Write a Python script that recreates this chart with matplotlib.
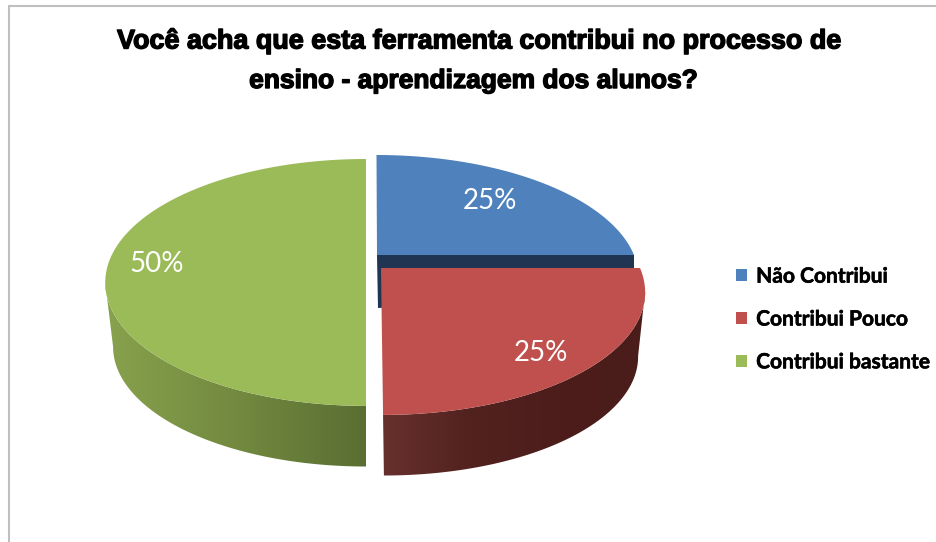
import numpy as np
import matplotlib
matplotlib.use('Agg')
import matplotlib.pyplot as plt
import matplotlib.patheffects as pe
from matplotlib.patches import Patch, Polygon, Rectangle

# data
categories = ['Não Contribui', 'Contribui Pouco', 'Contribui bastante']
shares = [25, 25, 50]
title_lines = ['Você acha que esta ferramenta contribui no processo de',
               'ensino - aprendizagem dos alunos?']

# look of the pie
top_colors = ['#4F81BD', '#C0504D', '#9BBB59']
centers_x = [377, 381, 366]
centers_y = [255, 268, 259]
radius_x = [257, 259, 256]
label_r = [0.68, 0.82, 0.80]
label_dx = [0, -10, -4]
label_dy = [-2, 7, 5]
shear = [0.005, 0.014, 0.0]     # the cut edges are not quite vertical
persp = 0.19
radius_y = 119
depth = 65
low_scale = 0.97


def project(theta, r, i, low=False):
    # theta clockwise from the top, circle put through a simple perspective
    u = r * np.sin(theta)
    v = r * np.cos(theta)
    w = 1 + persp * v
    k = low_scale if low else 1.0
    y = centers_y[i] - k * radius_y * v / w + (depth if low else 0)
    x = centers_x[i] + k * radius_x[i] * u / w + shear[i] * (y - centers_y[i])
    return x, y


def wall(i, t0, t1, xs, cols):
    # outer wall: horizontal gradient image clipped to the band between the rims
    ts = np.linspace(t0, t1, 200)
    xa, ya = project(ts, 1, i)
    xb, yb = project(ts, 1, i, low=True)
    px = np.r_[xa, xb[::-1]]
    py = np.r_[ya, yb[::-1]]
    grid = np.linspace(px.min(), px.max(), 300)
    rgb = np.array([matplotlib.colors.to_rgb(c) for c in cols])
    img = np.stack([np.interp(grid, xs, rgb[:, n]) for n in range(3)], axis=-1)[np.newaxis, :, :]
    im = ax.imshow(img, extent=(px.min(), px.max(), py.max(), py.min()), aspect='auto',
                   interpolation='bilinear', zorder=2 + i)
    clip = Polygon(np.c_[px, py], transform=ax.transData)
    im.set_clip_path(clip)


def top(i, t0, t1):
    ts = np.linspace(t0, t1, 200)
    x, y = project(ts, 1, i)
    cx, cy = project(0.0, 0.0, i)
    ax.fill(np.r_[cx, x], np.r_[cy, y], color=top_colors[i], lw=0, zorder=3 + i)


fig = plt.figure(figsize=(9.36, 5.42), dpi=100)
ax = fig.add_axes([0, 0, 1, 1])

# chart frame, runs off the right and bottom of the picture
ax.add_patch(Rectangle((9, 6), 1000, 600, fc='white', ec='#BFBFBF', lw=1.5, zorder=0))

fracs = np.array(shares) / sum(shares)
edges = np.r_[0, np.cumsum(fracs)] * 2 * np.pi
# angle of the widest point of the rim, the wall stops there
side = np.arccos(-persp)

# green first, then blue, red lies in front of blue
for i in [2, 0, 1]:
    t0, t1 = edges[i], edges[i + 1]
    if i == 0:
        # only the dark cut face of this slice can be seen
        cx, cy = project(0.0, 0.0, 0)
        ex, ey = project(t1, 1, 0)
        ax.fill([cx, ex, ex, cx + 1], [cy, ey, ey + 40, cy + 53], color='#1F3552', lw=0, zorder=2)
    elif i == 1:
        wall(i, max(t0, side), t1, [383, 470, 560, 640], ['#67302D', '#52221F', '#4C1D1B', '#4A1C1A'])
    else:
        wall(i, t0, min(t1, 2 * np.pi - side), [108, 240, 300, 366], ['#87A14D', '#72893F', '#667C39', '#5A6E33'])
    top(i, t0, t1)

ax.set_xlim(0, 936)
ax.set_ylim(542, 0)
ax.axis('off')

# percent labels
for i, f in enumerate(fracs):
    mid = (edges[i] + edges[i + 1]) / 2
    x, y = project(mid, label_r[i], i)
    ax.text(x + label_dx[i], y + label_dy[i], f'{round(f * 100)}%', color='white', fontsize=20,
            family='Lato', ha='center', va='center', zorder=10)

# title
for line, xx, yy, size in zip(title_lines, [478, 473.5], [41, 81], [19.4, 19.0]):
    ax.text(xx, yy, line, fontsize=size, fontweight='bold', family='Liberation Sans',
            ha='center', va='center', color='black', zorder=10,
            path_effects=[pe.withStroke(linewidth=1.0, foreground='black')])

# legend
handles = [Patch(fc=c, ec='none', label=n) for c, n in zip(top_colors, categories)]
leg = ax.legend(handles=handles, loc='center left', bbox_to_anchor=(736 / 936, 1 - 319.5 / 542),
                frameon=False, handlelength=0.53, handleheight=0.53, handletextpad=0.43,
                labelspacing=1.09, borderpad=0, borderaxespad=0,
                prop={'family': 'Lato', 'weight': 'bold', 'size': 15.1})
for t in leg.get_texts():
    t.set_path_effects([pe.withStroke(linewidth=0.4, foreground='black')])

fig.savefig('out.png', dpi=100)
